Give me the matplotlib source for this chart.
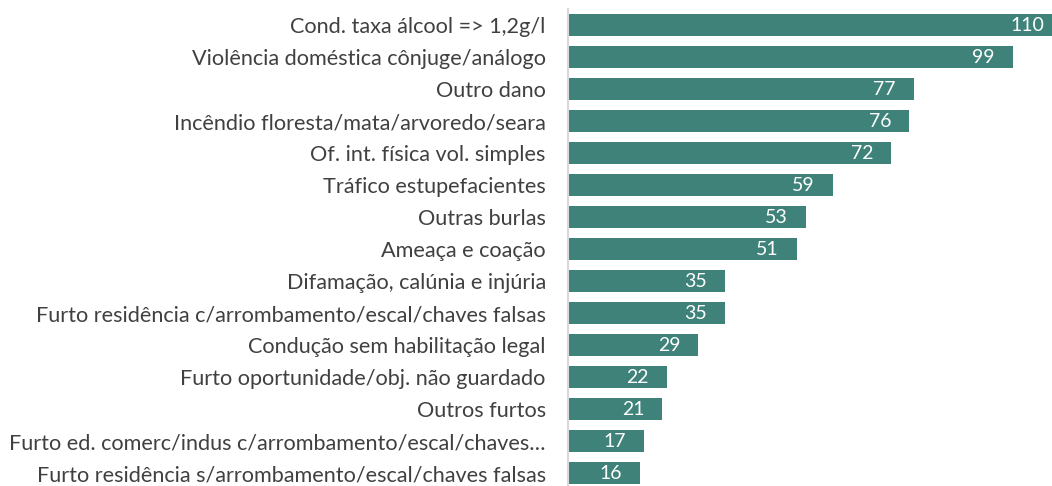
import matplotlib
matplotlib.use("Agg")
import matplotlib.pyplot as plt

categories = [
    "Cond. taxa álcool => 1,2g/l",
    "Violência doméstica cônjuge/análogo",
    "Outro dano",
    "Incêndio floresta/mata/arvoredo/seara",
    "Of. int. física vol. simples",
    "Tráfico estupefacientes",
    "Outras burlas",
    "Ameaça e coação",
    "Difamação, calúnia e injúria",
    "Furto residência c/arrombamento/escal/chaves falsas",
    "Condução sem habilitação legal",
    "Furto oportunidade/obj. não guardado",
    "Outros furtos",
    "Furto ed. comerc/indus c/arrombamento/escal/chaves…",
    "Furto residência s/arrombamento/escal/chaves falsas",
]
values = [110, 99, 77, 76, 72, 59, 53, 51, 35, 35, 29, 22, 21, 17, 16]

BAR_COLOR = "#3E827A"
TEXT_COLOR = "#404040"
FONT = ["Lato", "DejaVu Sans"]

W, H = 1052, 486
fig = plt.figure(figsize=(W / 100, H / 100), dpi=100)

# axes extend past the right edge so the longest bar runs off the canvas
px_per_unit = 4.49
xmax = 125
left_px = 568
ax_w = xmax * px_per_unit
top_px, bottom_px = 9, 489
ax = fig.add_axes([left_px / W, 1 - bottom_px / H, ax_w / W, (bottom_px - top_px) / H])

n = len(categories)
ypos = list(range(n))
ax.barh(ypos, values, height=0.66, color=BAR_COLOR, zorder=2)
ax.set_ylim(n - 0.5, -0.5)
ax.set_xlim(0, xmax)

label_inset = 18 / px_per_unit
for y, v in zip(ypos, values):
    ax.text(v - label_inset, y, f"{v}", ha="right", va="center",
            color="white", fontsize=14, family=FONT)

ax.set_yticks(ypos)
ax.set_yticklabels(categories, fontsize=15.6, color=TEXT_COLOR, family=FONT)
ax.tick_params(axis="y", length=0, pad=16)
ax.set_xticks([])

for side in ("top", "right", "bottom"):
    ax.spines[side].set_visible(False)
ax.spines["left"].set_color("#D9D9D9")
ax.spines["left"].set_linewidth(1.5)

fig.savefig("out.png", dpi=100)
